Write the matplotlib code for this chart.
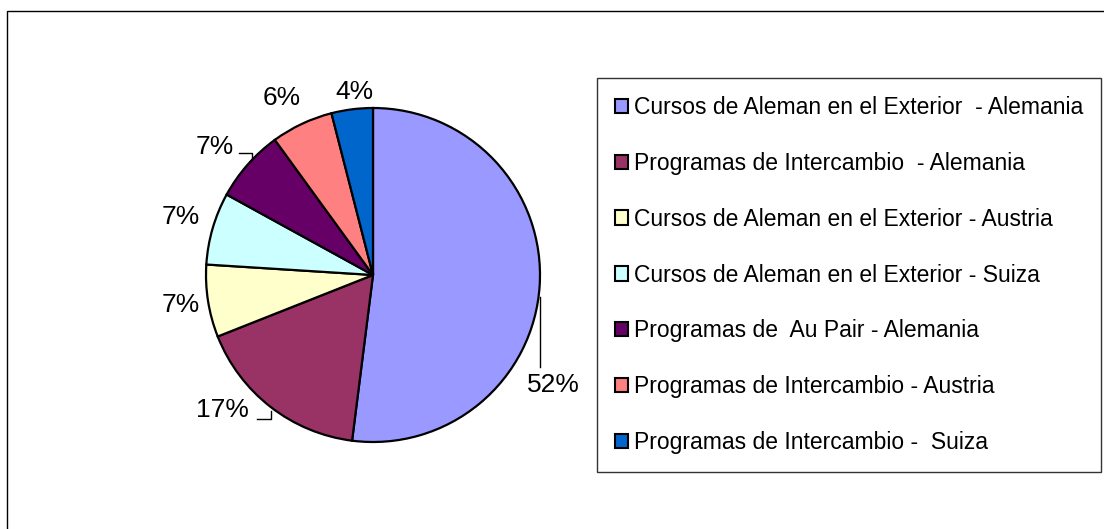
import matplotlib
matplotlib.use("Agg")
import matplotlib.pyplot as plt
from matplotlib.patches import Rectangle

plt.rcParams['font.family'] = ['Liberation Sans', 'DejaVu Sans']

categories = [
    "Cursos de Aleman en el Exterior  - Alemania",
    "Programas de Intercambio  - Alemania",
    "Cursos de Aleman en el Exterior - Austria",
    "Cursos de Aleman en el Exterior - Suiza",
    "Programas de  Au Pair - Alemania",
    "Programas de Intercambio - Austria",
    "Programas de Intercambio -  Suiza",
]
values = [52, 17, 7, 7, 7, 6, 4]
labels = ["52%", "17%", "7%", "7%", "7%", "6%", "4%"]
colors = ["#9999FF", "#993366", "#FFFFCC", "#CCFFFF", "#660066", "#FF8080", "#0066CC"]

W, H = 1104, 529
fig = plt.figure(figsize=(W / 100, H / 100), dpi=100)
ax = fig.add_axes([0, 0, 1, 1])

def Y(py):
    return H - py

# outer chart border
ax.add_patch(Rectangle((7, Y(H + 20)), W + 20, H + 20 - 11, fill=False,
                       edgecolor='black', linewidth=1.0))

cx, cy, r = 373, 275, 167
wedges, _ = ax.pie(values, colors=colors, startangle=90, counterclock=False,
                   center=(cx, Y(cy)), radius=r, frame=True,
                   wedgeprops=dict(edgecolor='black', linewidth=1.6))
ax.set_xlim(0, W)
ax.set_ylim(0, H)
ax.set_aspect('equal')
ax.axis('off')

# label positions (pixel coords of label centres)
label_pos = [(553, 385), (222, 410), (181, 305), (181, 217), (215, 147), (282, 98), (354, 92)]
for lab, (px, py) in zip(labels, label_pos):
    ax.text(px, Y(py), lab, ha='center', va='center', fontsize=19)

# leader lines
leaders = [
    [(540, 297), (540, 367)],
    [(257, 419), (271, 419), (271, 411)],
    [(239, 153), (252, 153), (252, 160)],
]
for pts in leaders:
    xs = [p[0] for p in pts]
    ys = [Y(p[1]) for p in pts]
    ax.plot(xs, ys, color='black', linewidth=1.0)

leg = ax.legend(wedges, categories, loc='upper left',
                bbox_to_anchor=(597 / W, 1 - 78 / H), bbox_transform=fig.transFigure,
                fontsize=16.45, frameon=True, fancybox=False, shadow=False,
                handlelength=0.58, handleheight=0.58, handletextpad=0.25,
                borderpad=0.78, labelspacing=1.44, borderaxespad=0)
leg.get_frame().set_edgecolor('black')
leg.get_frame().set_linewidth(1.0)
for h in leg.legend_handles:
    h.set_linewidth(1.5)

fig.savefig("out.png", dpi=100)
